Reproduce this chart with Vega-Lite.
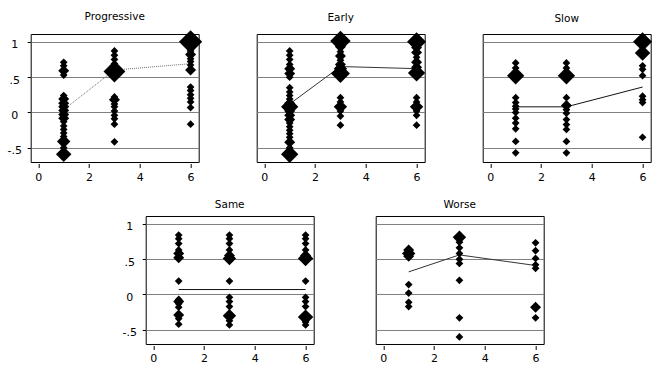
{
  "$schema": "https://vega.github.io/schema/vega-lite/v6.json",
  "padding": {"left": 5.7, "top": 11, "right": 5, "bottom": 5},
  "background": "white",
  "config": {
    "font": "DejaVu Sans",
    "view": {"stroke": "black", "strokeWidth": 1},
    "axis": {"gridColor": "#808080", "gridWidth": 1, "gridOpacity": 1, "tickColor": "black", "tickWidth": 1, "labelColor": "black", "labelFont": "DejaVu Sans", "labelFontSize": 11, "domain": false},
    "title": {"font": "DejaVu Sans", "fontSize": 10.5, "fontWeight": "normal", "color": "black", "baseline": "bottom", "offset": 7.5, "frame": "group"},
    "point": {"shape": "diamond", "filled": true, "color": "black", "opacity": 1, "strokeWidth": 0}
  },
  "datasets": {
    "pts": [
      {"p": "Progressive", "x": 1, "y": 0.71, "n": 1}, {"p": "Progressive", "x": 1, "y": 0.66, "n": 1}, {"p": "Progressive", "x": 1, "y": 0.59, "n": 2}, {"p": "Progressive", "x": 1, "y": 0.53, "n": 1},
      {"p": "Progressive", "x": 1, "y": 0.24, "n": 1}, {"p": "Progressive", "x": 1, "y": 0.19, "n": 2}, {"p": "Progressive", "x": 1, "y": 0.13, "n": 2}, {"p": "Progressive", "x": 1, "y": 0.08, "n": 2},
      {"p": "Progressive", "x": 1, "y": 0.03, "n": 2}, {"p": "Progressive", "x": 1, "y": -0.03, "n": 2}, {"p": "Progressive", "x": 1, "y": -0.08, "n": 2}, {"p": "Progressive", "x": 1, "y": -0.13, "n": 1},
      {"p": "Progressive", "x": 1, "y": -0.19, "n": 1}, {"p": "Progressive", "x": 1, "y": -0.24, "n": 1}, {"p": "Progressive", "x": 1, "y": -0.29, "n": 1}, {"p": "Progressive", "x": 1, "y": -0.34, "n": 1},
      {"p": "Progressive", "x": 1, "y": -0.41, "n": 3}, {"p": "Progressive", "x": 1, "y": -0.5, "n": 1}, {"p": "Progressive", "x": 1, "y": -0.59, "n": 4},
      {"p": "Progressive", "x": 3, "y": 0.87, "n": 1}, {"p": "Progressive", "x": 3, "y": 0.81, "n": 1}, {"p": "Progressive", "x": 3, "y": 0.75, "n": 1}, {"p": "Progressive", "x": 3, "y": 0.69, "n": 1},
      {"p": "Progressive", "x": 3, "y": 0.64, "n": 2}, {"p": "Progressive", "x": 3, "y": 0.58, "n": 8}, {"p": "Progressive", "x": 3, "y": 0.22, "n": 1}, {"p": "Progressive", "x": 3, "y": 0.18, "n": 2},
      {"p": "Progressive", "x": 3, "y": 0.12, "n": 1}, {"p": "Progressive", "x": 3, "y": 0.08, "n": 1}, {"p": "Progressive", "x": 3, "y": 0.02, "n": 1}, {"p": "Progressive", "x": 3, "y": -0.04, "n": 1},
      {"p": "Progressive", "x": 3, "y": -0.09, "n": 1}, {"p": "Progressive", "x": 3, "y": -0.165, "n": 1}, {"p": "Progressive", "x": 3, "y": -0.415, "n": 1},
      {"p": "Progressive", "x": 6, "y": 1.0, "n": 9}, {"p": "Progressive", "x": 6, "y": 0.93, "n": 1}, {"p": "Progressive", "x": 6, "y": 0.87, "n": 1}, {"p": "Progressive", "x": 6, "y": 0.82, "n": 2},
      {"p": "Progressive", "x": 6, "y": 0.76, "n": 1}, {"p": "Progressive", "x": 6, "y": 0.72, "n": 1}, {"p": "Progressive", "x": 6, "y": 0.67, "n": 1}, {"p": "Progressive", "x": 6, "y": 0.6, "n": 2},
      {"p": "Progressive", "x": 6, "y": 0.36, "n": 1}, {"p": "Progressive", "x": 6, "y": 0.31, "n": 1}, {"p": "Progressive", "x": 6, "y": 0.25, "n": 1}, {"p": "Progressive", "x": 6, "y": 0.2, "n": 1},
      {"p": "Progressive", "x": 6, "y": 0.15, "n": 1}, {"p": "Progressive", "x": 6, "y": 0.07, "n": 1}, {"p": "Progressive", "x": 6, "y": -0.165, "n": 1},

      {"p": "Early", "x": 1, "y": 0.87, "n": 1}, {"p": "Early", "x": 1, "y": 0.81, "n": 1}, {"p": "Early", "x": 1, "y": 0.75, "n": 1}, {"p": "Early", "x": 1, "y": 0.68, "n": 1},
      {"p": "Early", "x": 1, "y": 0.62, "n": 2}, {"p": "Early", "x": 1, "y": 0.55, "n": 2}, {"p": "Early", "x": 1, "y": 0.5, "n": 1}, {"p": "Early", "x": 1, "y": 0.35, "n": 1},
      {"p": "Early", "x": 1, "y": 0.29, "n": 1}, {"p": "Early", "x": 1, "y": 0.24, "n": 1}, {"p": "Early", "x": 1, "y": 0.19, "n": 1}, {"p": "Early", "x": 1, "y": 0.13, "n": 2},
      {"p": "Early", "x": 1, "y": 0.08, "n": 5}, {"p": "Early", "x": 1, "y": 0.02, "n": 2}, {"p": "Early", "x": 1, "y": -0.04, "n": 2}, {"p": "Early", "x": 1, "y": -0.1, "n": 2},
      {"p": "Early", "x": 1, "y": -0.15, "n": 1}, {"p": "Early", "x": 1, "y": -0.2, "n": 1}, {"p": "Early", "x": 1, "y": -0.25, "n": 1}, {"p": "Early", "x": 1, "y": -0.3, "n": 1},
      {"p": "Early", "x": 1, "y": -0.35, "n": 1}, {"p": "Early", "x": 1, "y": -0.42, "n": 2}, {"p": "Early", "x": 1, "y": -0.5, "n": 1}, {"p": "Early", "x": 1, "y": -0.59, "n": 5},
      {"p": "Early", "x": 3, "y": 1.01, "n": 7}, {"p": "Early", "x": 3, "y": 0.93, "n": 2}, {"p": "Early", "x": 3, "y": 0.86, "n": 1}, {"p": "Early", "x": 3, "y": 0.8, "n": 2},
      {"p": "Early", "x": 3, "y": 0.74, "n": 1}, {"p": "Early", "x": 3, "y": 0.68, "n": 2}, {"p": "Early", "x": 3, "y": 0.62, "n": 3}, {"p": "Early", "x": 3, "y": 0.55, "n": 6},
      {"p": "Early", "x": 3, "y": 0.21, "n": 1}, {"p": "Early", "x": 3, "y": 0.15, "n": 1}, {"p": "Early", "x": 3, "y": 0.08, "n": 3}, {"p": "Early", "x": 3, "y": 0.02, "n": 1},
      {"p": "Early", "x": 3, "y": -0.05, "n": 1}, {"p": "Early", "x": 3, "y": -0.18, "n": 1},
      {"p": "Early", "x": 6, "y": 1.0, "n": 6}, {"p": "Early", "x": 6, "y": 0.92, "n": 2}, {"p": "Early", "x": 6, "y": 0.85, "n": 2}, {"p": "Early", "x": 6, "y": 0.78, "n": 1},
      {"p": "Early", "x": 6, "y": 0.71, "n": 2}, {"p": "Early", "x": 6, "y": 0.64, "n": 2}, {"p": "Early", "x": 6, "y": 0.56, "n": 5}, {"p": "Early", "x": 6, "y": 0.21, "n": 1},
      {"p": "Early", "x": 6, "y": 0.15, "n": 1}, {"p": "Early", "x": 6, "y": 0.08, "n": 3}, {"p": "Early", "x": 6, "y": 0.02, "n": 1}, {"p": "Early", "x": 6, "y": -0.04, "n": 1},
      {"p": "Early", "x": 6, "y": -0.18, "n": 1},

      {"p": "Slow", "x": 1, "y": 0.7, "n": 1}, {"p": "Slow", "x": 1, "y": 0.63, "n": 1}, {"p": "Slow", "x": 1, "y": 0.52, "n": 5}, {"p": "Slow", "x": 1, "y": 0.21, "n": 1},
      {"p": "Slow", "x": 1, "y": 0.14, "n": 1}, {"p": "Slow", "x": 1, "y": 0.09, "n": 1}, {"p": "Slow", "x": 1, "y": 0.05, "n": 1}, {"p": "Slow", "x": 1, "y": 0.0, "n": 1},
      {"p": "Slow", "x": 1, "y": -0.08, "n": 1}, {"p": "Slow", "x": 1, "y": -0.15, "n": 1}, {"p": "Slow", "x": 1, "y": -0.23, "n": 1}, {"p": "Slow", "x": 1, "y": -0.41, "n": 1},
      {"p": "Slow", "x": 1, "y": -0.57, "n": 1},
      {"p": "Slow", "x": 3, "y": 0.7, "n": 1}, {"p": "Slow", "x": 3, "y": 0.63, "n": 1}, {"p": "Slow", "x": 3, "y": 0.52, "n": 5}, {"p": "Slow", "x": 3, "y": 0.21, "n": 1},
      {"p": "Slow", "x": 3, "y": 0.1, "n": 2}, {"p": "Slow", "x": 3, "y": 0.04, "n": 1}, {"p": "Slow", "x": 3, "y": -0.01, "n": 1}, {"p": "Slow", "x": 3, "y": -0.1, "n": 1},
      {"p": "Slow", "x": 3, "y": -0.17, "n": 1}, {"p": "Slow", "x": 3, "y": -0.24, "n": 1}, {"p": "Slow", "x": 3, "y": -0.41, "n": 1}, {"p": "Slow", "x": 3, "y": -0.57, "n": 1},
      {"p": "Slow", "x": 6, "y": 1.0, "n": 6}, {"p": "Slow", "x": 6, "y": 0.84, "n": 4}, {"p": "Slow", "x": 6, "y": 0.66, "n": 1}, {"p": "Slow", "x": 6, "y": 0.61, "n": 1},
      {"p": "Slow", "x": 6, "y": 0.52, "n": 1}, {"p": "Slow", "x": 6, "y": 0.23, "n": 1}, {"p": "Slow", "x": 6, "y": 0.18, "n": 1}, {"p": "Slow", "x": 6, "y": 0.14, "n": 1},
      {"p": "Slow", "x": 6, "y": -0.35, "n": 1},

      {"p": "Same", "x": 1, "y": 0.84, "n": 1}, {"p": "Same", "x": 1, "y": 0.79, "n": 1}, {"p": "Same", "x": 1, "y": 0.72, "n": 1}, {"p": "Same", "x": 1, "y": 0.63, "n": 1},
      {"p": "Same", "x": 1, "y": 0.58, "n": 2}, {"p": "Same", "x": 1, "y": 0.52, "n": 2}, {"p": "Same", "x": 1, "y": 0.19, "n": 1}, {"p": "Same", "x": 1, "y": -0.07, "n": 1},
      {"p": "Same", "x": 1, "y": -0.1, "n": 2}, {"p": "Same", "x": 1, "y": -0.13, "n": 1}, {"p": "Same", "x": 1, "y": -0.18, "n": 1}, {"p": "Same", "x": 1, "y": -0.29, "n": 2},
      {"p": "Same", "x": 1, "y": -0.34, "n": 1}, {"p": "Same", "x": 1, "y": -0.42, "n": 1},
      {"p": "Same", "x": 3, "y": 0.84, "n": 1}, {"p": "Same", "x": 3, "y": 0.79, "n": 1}, {"p": "Same", "x": 3, "y": 0.72, "n": 1}, {"p": "Same", "x": 3, "y": 0.63, "n": 1},
      {"p": "Same", "x": 3, "y": 0.55, "n": 2}, {"p": "Same", "x": 3, "y": 0.51, "n": 3}, {"p": "Same", "x": 3, "y": 0.19, "n": 1}, {"p": "Same", "x": 3, "y": -0.04, "n": 1},
      {"p": "Same", "x": 3, "y": -0.1, "n": 1}, {"p": "Same", "x": 3, "y": -0.17, "n": 1}, {"p": "Same", "x": 3, "y": -0.3, "n": 3}, {"p": "Same", "x": 3, "y": -0.37, "n": 1},
      {"p": "Same", "x": 3, "y": -0.43, "n": 1},
      {"p": "Same", "x": 6, "y": 0.84, "n": 1}, {"p": "Same", "x": 6, "y": 0.79, "n": 1}, {"p": "Same", "x": 6, "y": 0.72, "n": 1}, {"p": "Same", "x": 6, "y": 0.63, "n": 1},
      {"p": "Same", "x": 6, "y": 0.55, "n": 2}, {"p": "Same", "x": 6, "y": 0.51, "n": 4}, {"p": "Same", "x": 6, "y": 0.19, "n": 1}, {"p": "Same", "x": 6, "y": -0.04, "n": 1},
      {"p": "Same", "x": 6, "y": -0.1, "n": 1}, {"p": "Same", "x": 6, "y": -0.17, "n": 1}, {"p": "Same", "x": 6, "y": -0.32, "n": 4}, {"p": "Same", "x": 6, "y": -0.39, "n": 1},
      {"p": "Same", "x": 6, "y": -0.43, "n": 1},

      {"p": "Worse", "x": 1, "y": 0.63, "n": 2}, {"p": "Worse", "x": 1, "y": 0.58, "n": 3}, {"p": "Worse", "x": 1, "y": 0.54, "n": 2}, {"p": "Worse", "x": 1, "y": 0.14, "n": 1},
      {"p": "Worse", "x": 1, "y": 0.02, "n": 1}, {"p": "Worse", "x": 1, "y": -0.11, "n": 1}, {"p": "Worse", "x": 1, "y": -0.17, "n": 1},
      {"p": "Worse", "x": 3, "y": 0.81, "n": 3}, {"p": "Worse", "x": 3, "y": 0.74, "n": 1}, {"p": "Worse", "x": 3, "y": 0.66, "n": 1}, {"p": "Worse", "x": 3, "y": 0.58, "n": 1},
      {"p": "Worse", "x": 3, "y": 0.5, "n": 1}, {"p": "Worse", "x": 3, "y": 0.44, "n": 1}, {"p": "Worse", "x": 3, "y": 0.2, "n": 1}, {"p": "Worse", "x": 3, "y": -0.33, "n": 1},
      {"p": "Worse", "x": 3, "y": -0.6, "n": 1},
      {"p": "Worse", "x": 6, "y": 0.73, "n": 1}, {"p": "Worse", "x": 6, "y": 0.62, "n": 1}, {"p": "Worse", "x": 6, "y": 0.51, "n": 1}, {"p": "Worse", "x": 6, "y": 0.42, "n": 1},
      {"p": "Worse", "x": 6, "y": 0.37, "n": 1}, {"p": "Worse", "x": 6, "y": -0.18, "n": 2}, {"p": "Worse", "x": 6, "y": -0.33, "n": 1}
    ],
    "means": [
      {"p": "Progressive", "x": 1, "y": 0.04}, {"p": "Progressive", "x": 3, "y": 0.6}, {"p": "Progressive", "x": 6, "y": 0.69},
      {"p": "Early", "x": 1, "y": 0.12}, {"p": "Early", "x": 3, "y": 0.65}, {"p": "Early", "x": 6, "y": 0.62},
      {"p": "Slow", "x": 1, "y": 0.08}, {"p": "Slow", "x": 3, "y": 0.08}, {"p": "Slow", "x": 6, "y": 0.36},
      {"p": "Same", "x": 1, "y": 0.07}, {"p": "Same", "x": 3, "y": 0.07}, {"p": "Same", "x": 6, "y": 0.07},
      {"p": "Worse", "x": 1, "y": 0.32}, {"p": "Worse", "x": 3, "y": 0.56}, {"p": "Worse", "x": 6, "y": 0.41}
    ]
  },
  "vconcat": [
    {
      "hconcat": [
        {
          "width": 168, "height": 128,
          "title": {"text": "Progressive"},
          "layer": [
            {"data": {"name": "means"}, "transform": [{"filter": "datum.p == 'Progressive'"}],
             "mark": {"type": "line", "color": "#6e6e6e", "strokeWidth": 1, "strokeDash": [1, 1]},
             "encoding": {
               "x": {"field": "x", "type": "quantitative", "scale": {"domain": [-0.3, 6.32], "nice": false, "zero": false}, "axis": {"values": [0, 2, 4, 6], "grid": false, "tickSize": 4, "offset": 1.5, "labelPadding": 3.5, "title": null}},
               "y": {"field": "y", "type": "quantitative", "scale": {"domain": [-0.7, 1.11], "nice": false, "zero": false}, "axis": {"values": [-0.5, 0, 0.5, 1], "grid": true, "tickSize": 3.5, "labelPadding": 13, "labelAlign": "center", "labelBaseline": "middle", "labelOffset": 3, "labelExpr": "datum.value == 0.5 ? '.5' : datum.value == -0.5 ? '-.5' : datum.value == 1 ? '1' : '0'", "title": null}}
             }},
            {"data": {"name": "pts"}, "transform": [{"filter": "datum.p == 'Progressive'"}],
             "mark": {"type": "point"},
             "encoding": {
               "x": {"field": "x", "type": "quantitative"},
               "y": {"field": "y", "type": "quantitative"},
               "size": {"field": "n", "type": "quantitative", "scale": {"domain": [0, 10], "range": [0, 600]}, "legend": null}
             }}
          ]
        },
        {
          "width": 168, "height": 128,
          "title": {"text": "Early"},
          "layer": [
            {"data": {"name": "means"}, "transform": [{"filter": "datum.p == 'Early'"}],
             "mark": {"type": "line", "color": "#333333", "strokeWidth": 1},
             "encoding": {
               "x": {"field": "x", "type": "quantitative", "scale": {"domain": [-0.3, 6.32], "nice": false, "zero": false}, "axis": {"values": [0, 2, 4, 6], "grid": false, "tickSize": 4, "offset": 1.5, "labelPadding": 3.5, "title": null}},
               "y": {"field": "y", "type": "quantitative", "scale": {"domain": [-0.7, 1.11], "nice": false, "zero": false}, "axis": {"values": [-0.5, 0, 0.5, 1], "grid": true, "ticks": false, "labels": false, "title": null}}
             }},
            {"data": {"name": "pts"}, "transform": [{"filter": "datum.p == 'Early'"}],
             "mark": {"type": "point"},
             "encoding": {
               "x": {"field": "x", "type": "quantitative"},
               "y": {"field": "y", "type": "quantitative"},
               "size": {"field": "n", "type": "quantitative", "scale": {"domain": [0, 10], "range": [0, 600]}, "legend": null}
             }}
          ]
        },
        {
          "width": 168, "height": 128,
          "title": {"text": "Slow"},
          "layer": [
            {"data": {"name": "means"}, "transform": [{"filter": "datum.p == 'Slow'"}],
             "mark": {"type": "line", "color": "#111111", "strokeWidth": 1},
             "encoding": {
               "x": {"field": "x", "type": "quantitative", "scale": {"domain": [-0.3, 6.32], "nice": false, "zero": false}, "axis": {"values": [0, 2, 4, 6], "grid": false, "tickSize": 4, "offset": 1.5, "labelPadding": 3.5, "title": null}},
               "y": {"field": "y", "type": "quantitative", "scale": {"domain": [-0.7, 1.11], "nice": false, "zero": false}, "axis": {"values": [-0.5, 0, 0.5, 1], "grid": true, "ticks": false, "labels": false, "title": null}}
             }},
            {"data": {"name": "pts"}, "transform": [{"filter": "datum.p == 'Slow'"}],
             "mark": {"type": "point"},
             "encoding": {
               "x": {"field": "x", "type": "quantitative"},
               "y": {"field": "y", "type": "quantitative"},
               "size": {"field": "n", "type": "quantitative", "scale": {"domain": [0, 10], "range": [0, 600]}, "legend": null}
             }}
          ]
        }
      ],
      "spacing": 58,
      "bounds": "flush"
    },
    {
      "hconcat": [
        {
          "width": 53, "height": 128,
          "view": {"stroke": null},
          "data": {"values": []},
          "mark": {"type": "point", "opacity": 0},
          "encoding": {}
        },
        {
          "width": 168, "height": 128,
          "title": {"text": "Same", "offset": 5},
          "layer": [
            {"data": {"name": "means"}, "transform": [{"filter": "datum.p == 'Same'"}],
             "mark": {"type": "line", "color": "#111111", "strokeWidth": 1},
             "encoding": {
               "x": {"field": "x", "type": "quantitative", "scale": {"domain": [-0.3, 6.32], "nice": false, "zero": false}, "axis": {"values": [0, 2, 4, 6], "grid": false, "tickSize": 4, "offset": 1.5, "labelPadding": 3.5, "title": null}},
               "y": {"field": "y", "type": "quantitative", "scale": {"domain": [-0.7, 1.11], "nice": false, "zero": false}, "axis": {"values": [-0.5, 0, 0.5, 1], "grid": true, "tickSize": 3.5, "labelPadding": 13, "labelAlign": "center", "labelBaseline": "middle", "labelOffset": 3, "labelExpr": "datum.value == 0.5 ? '.5' : datum.value == -0.5 ? '-.5' : datum.value == 1 ? '1' : '0'", "title": null}}
             }},
            {"data": {"name": "pts"}, "transform": [{"filter": "datum.p == 'Same'"}],
             "mark": {"type": "point"},
             "encoding": {
               "x": {"field": "x", "type": "quantitative"},
               "y": {"field": "y", "type": "quantitative"},
               "size": {"field": "n", "type": "quantitative", "scale": {"domain": [0, 10], "range": [0, 600]}, "legend": null}
             }}
          ]
        },
        {
          "width": 168, "height": 128,
          "title": {"text": "Worse", "offset": 5},
          "layer": [
            {"data": {"name": "means"}, "transform": [{"filter": "datum.p == 'Worse'"}],
             "mark": {"type": "line", "color": "#333333", "strokeWidth": 1},
             "encoding": {
               "x": {"field": "x", "type": "quantitative", "scale": {"domain": [-0.3, 6.32], "nice": false, "zero": false}, "axis": {"values": [0, 2, 4, 6], "grid": false, "tickSize": 4, "offset": 1.5, "labelPadding": 3.5, "title": null}},
               "y": {"field": "y", "type": "quantitative", "scale": {"domain": [-0.7, 1.11], "nice": false, "zero": false}, "axis": {"values": [-0.5, 0, 0.5, 1], "grid": true, "ticks": false, "labels": false, "title": null}}
             }},
            {"data": {"name": "pts"}, "transform": [{"filter": "datum.p == 'Worse'"}],
             "mark": {"type": "point"},
             "encoding": {
               "x": {"field": "x", "type": "quantitative"},
               "y": {"field": "y", "type": "quantitative"},
               "size": {"field": "n", "type": "quantitative", "scale": {"domain": [0, 10], "range": [0, 600]}, "legend": null}
             }}
          ]
        }
      ],
      "spacing": 62,
      "bounds": "flush"
    }
  ],
  "spacing": 17
}
